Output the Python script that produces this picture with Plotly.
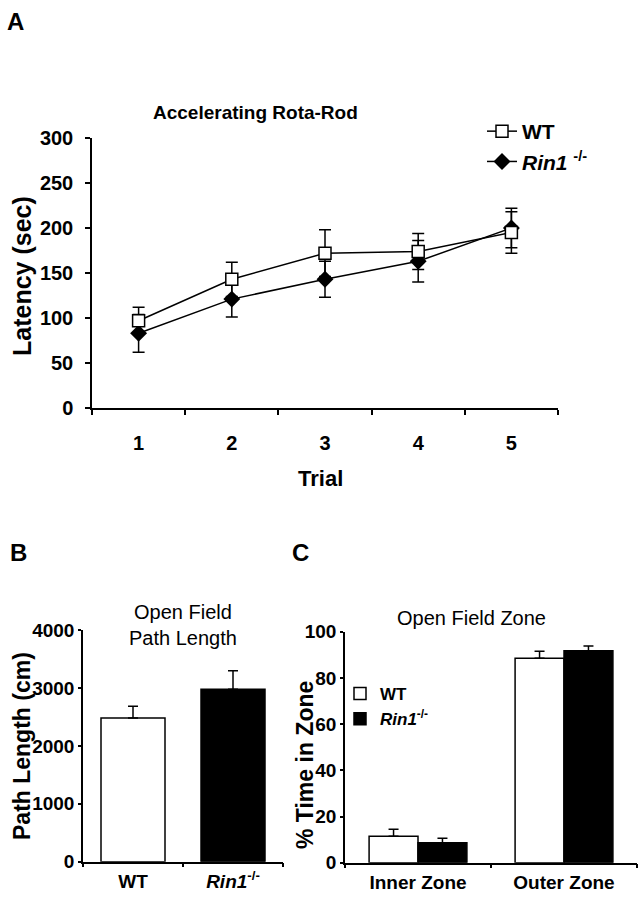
import plotly.graph_objects as go

# ---------------- data ----------------
trials = ["1", "2", "3", "4", "5"]
wt_latency = [97, 143, 172, 174, 195]
wt_latency_sem = [15, 19, 26, 20, 23]
rin1_latency = [83, 121, 143, 163, 200]
rin1_latency_sem = [21, 20, 20, 23, 22]

path_groups = ["WT", "<i>Rin1</i><sup>-/-</sup>"]
path_length = [2480, 2975]
path_length_sem = [205, 320]

zones = ["Inner Zone", "Outer Zone"]
wt_zone = [11.5, 88.5]
wt_zone_sem = [3, 3]
rin1_zone = [8.6, 91.8]
rin1_zone_sem = [2, 2]

W, H = 644, 899
FONT = "Liberation Sans, Arial, Helvetica, sans-serif"


def fx(p):
    return p / W


def fy(p):
    return 1 - p / H


fig = go.Figure()

# ---------------- Panel A ----------------
fig.add_trace(go.Scatter(
    x=trials, y=rin1_latency, name="<i>Rin1</i> <sup>-/-</sup>",
    mode="lines+markers", xaxis="x", yaxis="y", legend="legend",
    line=dict(color="black", width=1.5),
    marker=dict(symbol="diamond", size=13, color="black"),
    error_y=dict(type="data", array=rin1_latency_sem, visible=True,
                 color="black", thickness=1.5, width=6),
))
fig.add_trace(go.Scatter(
    x=trials, y=wt_latency, name="WT",
    mode="lines+markers", xaxis="x", yaxis="y", legend="legend",
    line=dict(color="black", width=1.5),
    marker=dict(symbol="square", size=12, color="white",
                line=dict(color="black", width=1.5)),
    error_y=dict(type="data", array=wt_latency_sem, visible=True,
                 color="black", thickness=1.5, width=6),
))

# ---------------- Panel B ----------------
fig.add_trace(go.Bar(
    x=path_groups, y=path_length, xaxis="x2", yaxis="y2", showlegend=False,
    marker=dict(color=["white", "black"], line=dict(color="black", width=1.5)),
    width=0.64,
    error_y=dict(type="data", array=path_length_sem, arrayminus=[0, 0],
                 symmetric=False, visible=True, color="black",
                 thickness=1.5, width=5),
))

# ---------------- Panel C ----------------
fig.add_trace(go.Bar(
    x=zones, y=wt_zone, name="WT", xaxis="x3", yaxis="y3", legend="legend2",
    marker=dict(color="white", line=dict(color="black", width=1.5)),
    error_y=dict(type="data", array=wt_zone_sem, arrayminus=[0, 0],
                 symmetric=False, visible=True, color="black",
                 thickness=1.5, width=5),
))
fig.add_trace(go.Bar(
    x=zones, y=rin1_zone, name="<i>Rin1</i><sup>-/-</sup>", xaxis="x3",
    yaxis="y3", legend="legend2",
    marker=dict(color="black", line=dict(color="black", width=1.5)),
    error_y=dict(type="data", array=rin1_zone_sem, arrayminus=[0, 0],
                 symmetric=False, visible=True, color="black",
                 thickness=1.5, width=5),
))


def tf(size):
    return dict(family=FONT, size=size, color="black", weight="bold")


axis_common = dict(showline=True, linecolor="black", linewidth=1.5,
                   ticks="outside", tickcolor="black", tickwidth=1.5,
                   showgrid=False, zeroline=False, automargin=False)

fig.update_layout(
    template="none",
    width=W, height=H, margin=dict(l=0, r=0, t=0, b=0, autoexpand=False),
    paper_bgcolor="white", plot_bgcolor="white",
    font=dict(family=FONT, color="black"),
    barmode="group", bargap=0.33, bargroupgap=0,
    xaxis=dict(axis_common, domain=[fx(92), fx(558)], anchor="y",
               type="category", range=[-0.5, 4.5], tickson="boundaries",
               ticklen=5, ticklabelstandoff=16, tickfont=tf(20)),
    yaxis=dict(axis_common, domain=[fy(408), fy(138)], anchor="x",
               range=[0, 300], tickvals=[0, 50, 100, 150, 200, 250, 300],
               ticklen=5, ticklabelstandoff=8, tickfont=tf(20)),
    xaxis2=dict(axis_common, domain=[fx(83), fx(283)], anchor="y2",
                type="category", range=[-0.5, 1.5], tickson="boundaries",
                ticklen=4, ticklabelstandoff=2, tickfont=tf(19)),
    yaxis2=dict(axis_common, domain=[fy(861.7), fy(630)], anchor="x2",
                range=[0, 4000], tickvals=[0, 1000, 2000, 3000, 4000],
                ticklen=3, ticklabelstandoff=0, tickfont=tf(19)),
    xaxis3=dict(axis_common, domain=[fx(345), fx(637)], anchor="y3",
                type="category", range=[-0.5, 1.5], tickson="boundaries",
                ticklen=4, ticklabelstandoff=2, tickfont=tf(19)),
    yaxis3=dict(axis_common, domain=[fy(862.7), fy(631.7)], anchor="x3",
                range=[0, 100], tickvals=[0, 20, 40, 60, 80, 100],
                ticklen=3, ticklabelstandoff=0, tickfont=tf(19)),
    legend=dict(x=fx(482), y=fy(111), xanchor="left", yanchor="top",
                bgcolor="rgba(0,0,0,0)", traceorder="reversed",
                font=tf(21), itemwidth=30),
    legend2=dict(x=fx(340), y=fy(676), xanchor="left", yanchor="top",
                 bgcolor="rgba(0,0,0,0)", traceorder="normal",
                 font=tf(17), itemwidth=30, tracegroupgap=0),
)

ann = []


def text(x, y, s, size, bold=True, angle=0, xanchor="center"):
    ann.append(dict(x=fx(x), y=fy(y), xref="paper", yref="paper", text=s,
                    showarrow=False, textangle=angle, xanchor=xanchor,
                    yanchor="middle",
                    font=dict(family=FONT, size=size, color="black",
                              weight="bold" if bold else "normal")))


# panel letters
text(16, 21, "A", 24)
text(18, 552, "B", 24)
text(300, 552, "C", 24)
# titles
text(255, 112, "Accelerating Rota-Rod", 19)
text(183, 625, "Open Field<br>Path Length", 20, bold=False)
text(471, 618, "Open Field Zone", 20, bold=False)
# axis titles
text(22, 276, "Latency (sec)", 25, angle=-90)
text(320, 478, "Trial", 22)
text(22, 746, "Path Length (cm)", 23, angle=-90)
text(305, 765, "% Time in Zone", 23, angle=-90)

fig.update_layout(annotations=ann)

fig.write_html(
    "out.html",
    config={"displayModeBar": False},
    post_script="document.body.style.margin='0';document.body.style.padding='0';",
)
